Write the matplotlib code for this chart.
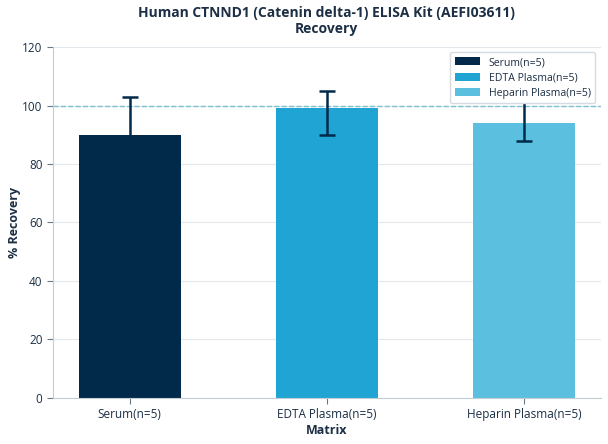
import matplotlib.pyplot as plt
import numpy as np

plt.rcParams['font.family'] = ['Open Sans', 'Noto Sans', 'DejaVu Sans']

categories = ['Serum(n=5)', 'EDTA Plasma(n=5)', 'Heparin Plasma(n=5)']
recovery = [90, 99, 94]
err_low = [78, 90, 88]
err_high = [103, 105, 103]
colors = ['#012a4a', '#1fa4d4', '#5bc0e0']

text_color = '#1c2f45'
x = np.arange(len(categories))
yerr = [np.array(recovery) - np.array(err_low), np.array(err_high) - np.array(recovery)]

fig = plt.figure(figsize=(6.08, 4.44), dpi=100)
ax = fig.add_axes([0.087, 0.104, 0.901, 0.790])

ax.bar(x, recovery, width=0.52, color=colors, label=categories, zorder=2)
ax.errorbar(x, recovery, yerr=yerr, fmt='none', ecolor='#012a4a', elinewidth=1.8,
            capsize=6, capthick=1.8, zorder=3)
ax.axhline(100, color='#7cc0cf', linestyle='--', linewidth=1, zorder=1)

ax.set_xlim(-0.39, 2.39)
ax.set_ylim(0, 120)
ax.set_yticks(range(0, 121, 20))
ax.set_xticks(x)
ax.set_xticklabels(categories)
ax.grid(axis='y', color='#e3e8ec', linewidth=0.8, zorder=0)
ax.set_axisbelow(True)

for s in ['top', 'right']:
    ax.spines[s].set_visible(False)
for s in ['left', 'bottom']:
    ax.spines[s].set_color('#c5cdd4')
ax.tick_params(colors='#6b7785', labelcolor=text_color, labelsize=8.5, length=4)

ax.set_xlabel('Matrix', fontsize=9, fontweight='bold', color=text_color, labelpad=2)
ax.set_ylabel('% Recovery', fontsize=9, fontweight='bold', color=text_color)
ax.yaxis.set_label_coords(-0.058, 0.5)
ax.set_title('Human CTNND1 (Catenin delta-1) ELISA Kit (AEFI03611)\nRecovery',
             fontsize=10, fontweight='bold', color=text_color, pad=10)

leg = ax.legend(loc='upper right', fontsize=7.6, frameon=True, fancybox=True,
                edgecolor='#d5dbe0', framealpha=1, borderaxespad=0.5,
                labelspacing=0.4, handlelength=2.4, handleheight=0.8, borderpad=0.45)
for t in leg.get_texts():
    t.set_color(text_color)

fig.savefig('out.png', dpi=100)
